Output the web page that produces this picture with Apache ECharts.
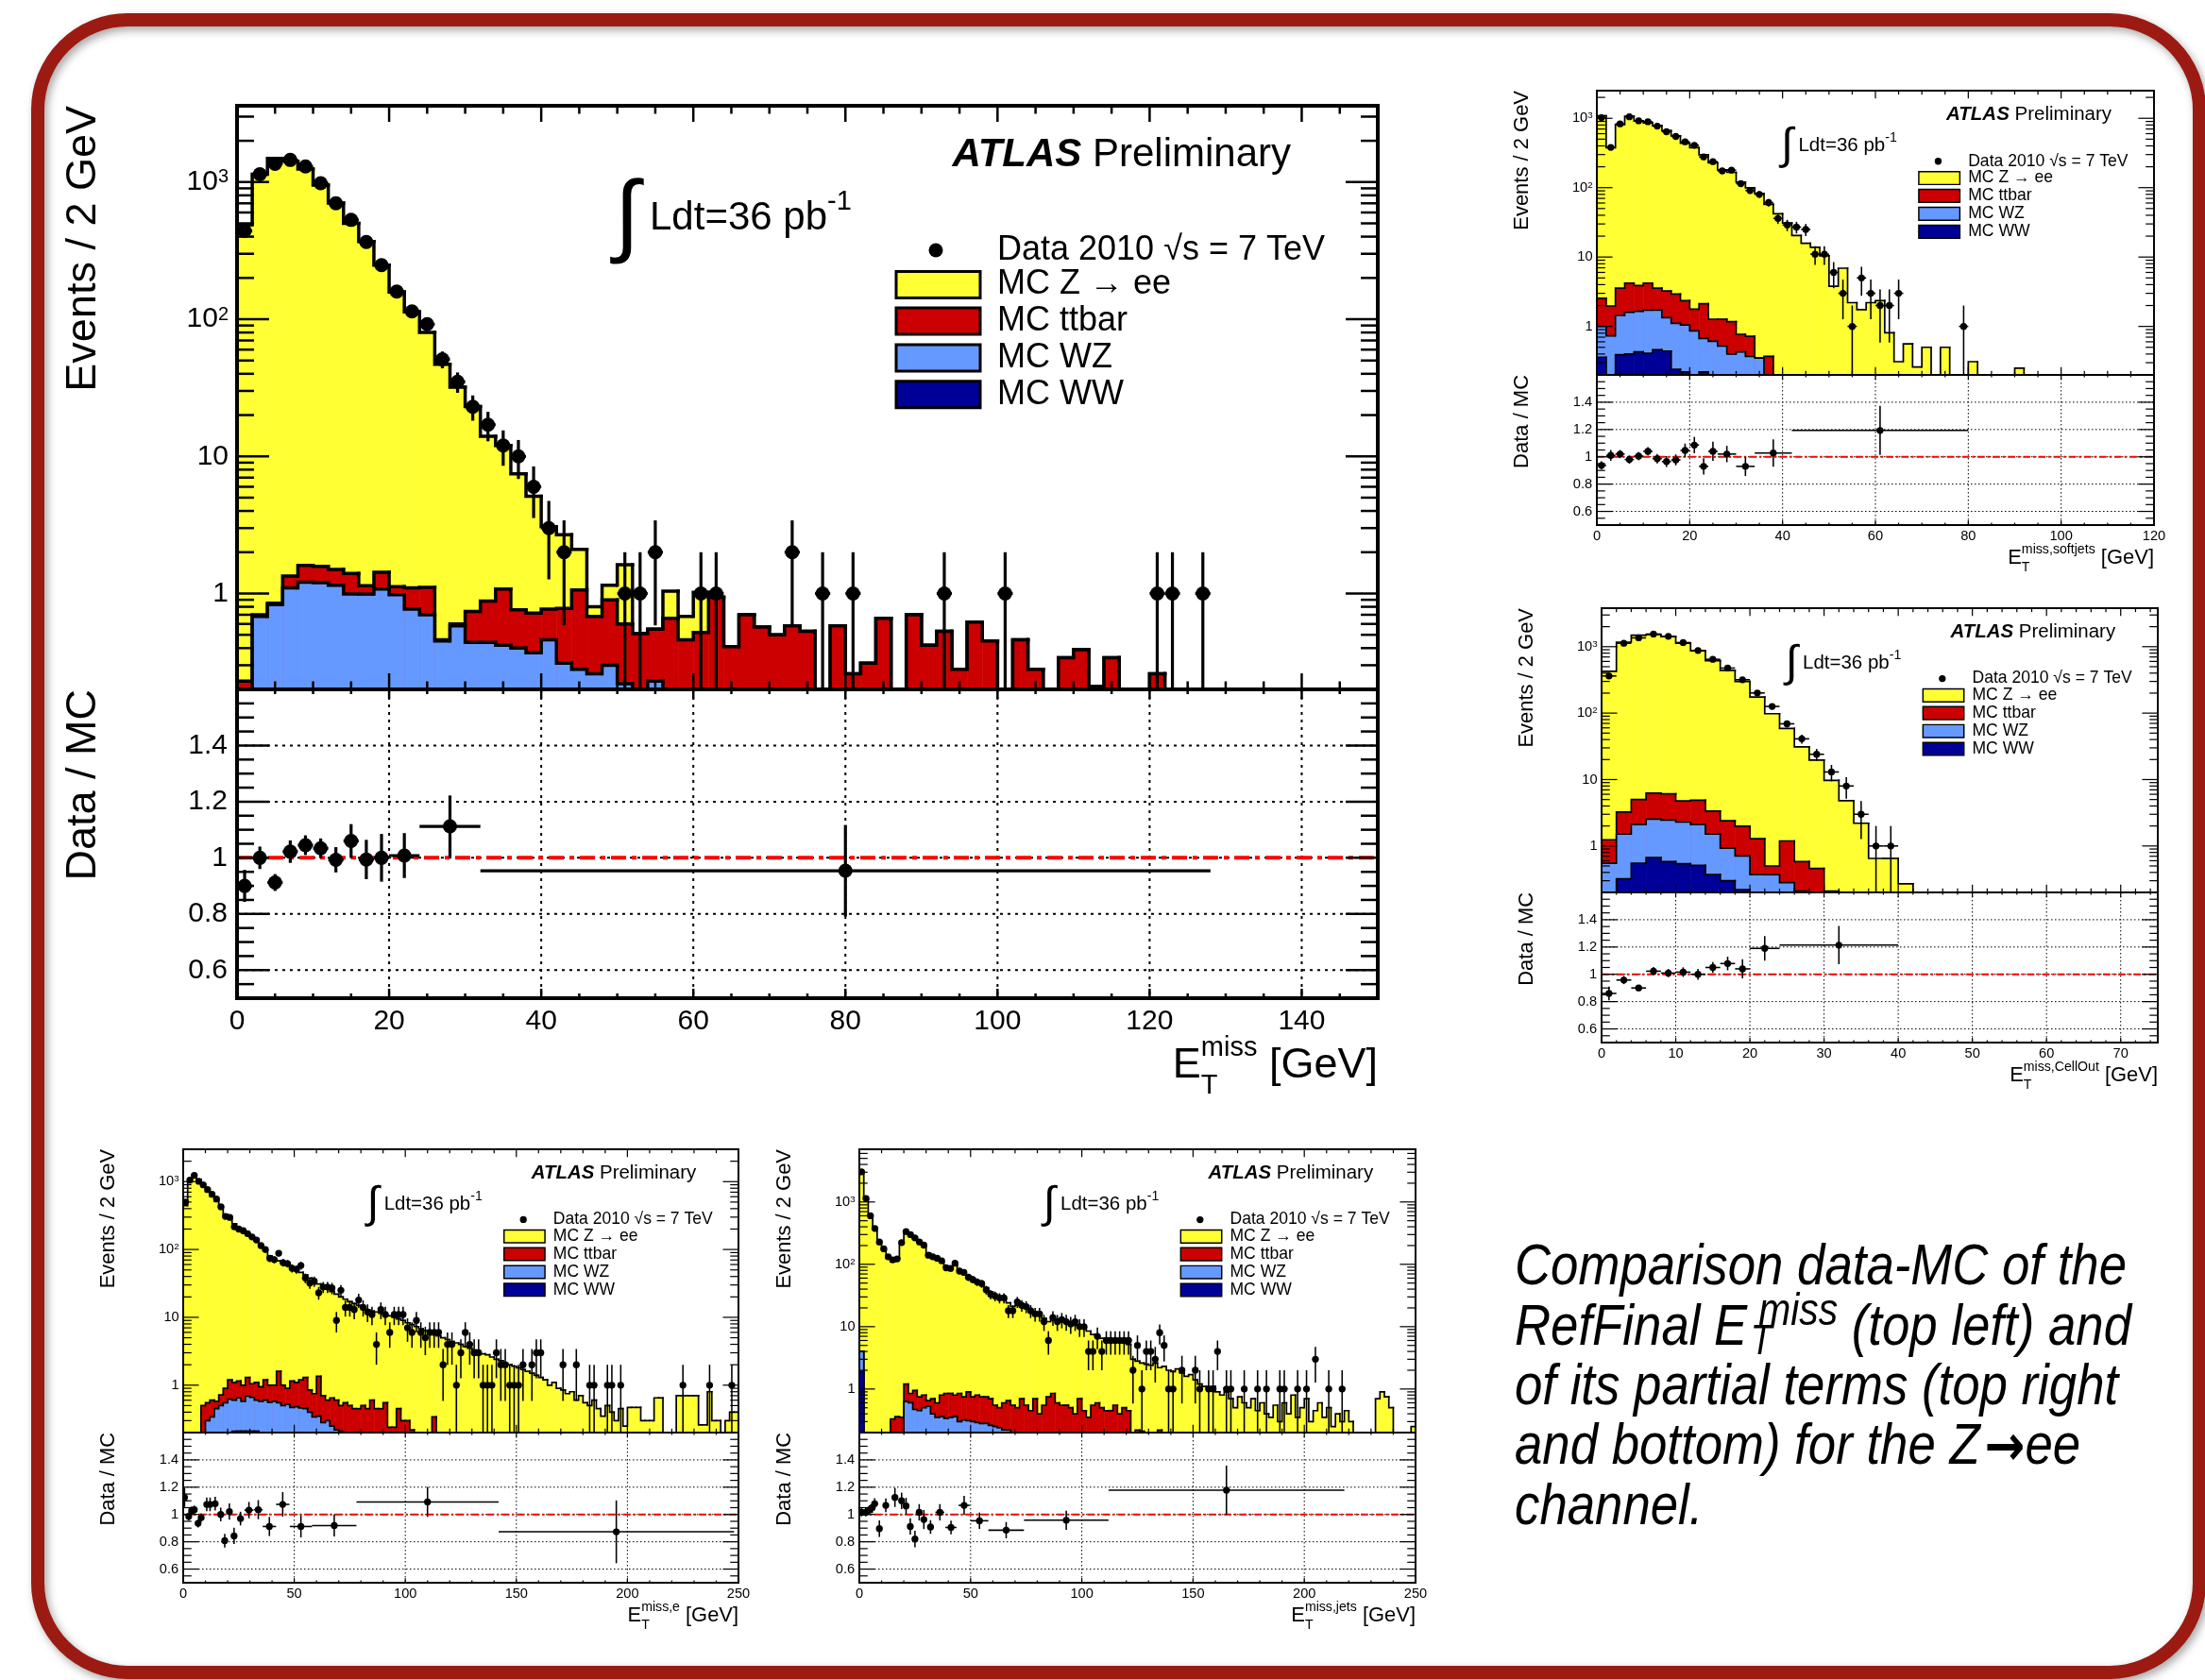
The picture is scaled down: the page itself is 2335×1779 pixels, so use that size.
<!DOCTYPE html>
<html>
<head>
<meta charset="utf-8">
<script src="https://cdn.jsdelivr.net/npm/echarts@6/dist/echarts.min.js"></script>
<style>
  html, body { margin: 0; background: #fff; }
  #chart { width: 2335px; height: 1779px; }
</style>
</head>
<body>
<div id="chart"></div>
<script>
// ---- data: events per 2 GeV bin ----
const BIN = 2;

// RefFinal (top left), 0-150 GeV
const dataA = [440,1140,1360,1450,1300,980,700,530,366,248, 159,114,92,51,35,23,17,12,10,6,
  3,2,0,0,0,1,1,2,0,0, 1,1,0,0,0,0,2,0,1,0, 1,0,0,0,0,0,1,0,0,0, 1,0,0,0,0,0,0,0,0,0, 1,1,0,1];
const zeeA = [489,1139,1489,1419,1243,948,703,499,367,247, 157,112,79,46.5,31.4,22.3,13.1,10.9,6.7,4.4,
  2.3,1.9,1.04,0.12,0.25,1.02,0,0,0.38,0.22, 0.5];
const ttA = [0.03,0.02,0.02,0.24,0.39,0.38,0.35,0.41,0.15,0.35, 0.14,0.33,0.41,0.01,0.02,0.30,0.44,0.66,0.36,0.35,
  0.31,0.47,0.78,0.42,0.6,0.38,0.51,0.32,0.66,0.46, 0.52,0.94,0.41,0.70,0.57,0.50,0.58,0.53,0,0.58,
  0.26,0.31,0.66,0,0.70,0.42,0.53,0.28,0.62,0.45, 0,0.46,0.28,0,0.34,0.39,0.21,0.34,0,0, 0.26];
const wzA = [0.2,0.68,0.83,1.1,1.21,1.2,1.15,0.99,0.99,1.08, 0.98,0.77,0.70,0.45,0.58,0.44,0.44,0.42,0.40,0.37,
  0.46,0.31,0.28,0.26,0.30,0.22,0,0.23];
const wwA = [];
// ratio points: [x, x half-width, data/MC, error]
const ratioA = [[1,1,0.90,0.057],[3,1,1.0,0.04],[5,1,0.912,0.03],[7,1,1.022,0.04],[9,1,1.045,0.035],
  [11,1,1.034,0.035],[13,1,0.993,0.045],[15,1,1.06,0.06],[17,1,0.994,0.07],[19,1,1.0,0.085],
  [22,2,1.008,0.08],[28,4,1.112,0.11],[80,48,0.954,0.163]];

// softjets (top right), 0-120 GeV
const dataB = [1020,380,830,1050,920,890,770,640,547,458, 408,277,237,174,179,114,91,80,61,36,
  29,27,25,11,11,6,3,1,5,3, 2,2,3,0,0,0,0,0,0,1];
const zeeB = [1086,376,810,1067,911,852,777,660,557,435, 374,296,227,179,165,119,99,82,57,42,
  31,20.5,15.8,13.8,10.4,3.8,6.9,2.2,1.74,2.2, 2.35,0.81,0.31,0.56,0.26,0.5,0,0.5,0,0, 0.31,0,0,0,0,0.25];
const ttB = [1.55,1.24,2.12,2.6,2.22,2.48,1.84,1.90,1.82,1.30, 0.91,1.45,0.66,0.75,0.77,0.34,0.35,0,0.37];
const wzB = [0.64,0.73,1.05,1.2,1.22,1.31,1.26,0.90,0.87,0.83, 0.86,0.45,0.61,0.52,0.40,0.43,0.37,0.35];
const wwB = [0.36,0,0.39,0.40,0.43,0.41,0.46,0.44,0.24,0.22, 0,0.22];
const ratioB = [[1,1,0.937,0.03],[3,1,1.01,0.04],[5,1,1.02,0.03],[7,1,0.98,0.03],[9,1,1.005,0.03],
  [11,1,1.04,0.03],[13,1,0.986,0.035],[15,1,0.965,0.04],[17,1,0.977,0.04],[19,1,1.047,0.05],
  [21,1,1.086,0.06],[23,1,0.93,0.06],[25,1,1.04,0.07],[28,2,1.02,0.06],[32,2,0.93,0.07],
  [38,4,1.028,0.1],[61,19,1.193,0.18]];

// CellOut (middle right), 0-75 GeV
const dataC = [362,1127,1358,1549,1432,1153,877,646,476,318, 201,126,69,41,24,13,8,3,1,1];
const zeeC = [425,1167,1485,1524,1414,1125,865,612,439,298, 173,97.5,57.4,30.4,19.2,9.5,4.8,2.2,0.65,0.65, 0.27];
const ttC = [0.69,1.74,2.9,3.72,3.65,2.46,2.8,1.85,1.46,1.28, 0.92,0.13,0.91,0.37,0.46,0.21];
const wzC = [0.55,1.19,1.55,1.86,1.87,1.75,1.59,1.14,0.63,0.49, 0.37,0.37,0.28,0.21];
const wwC = [0,0.32,0.55,0.67,0.58,0.54,0.51,0.37,0.30,0.22];
const ratioC = [[1,1,0.86,0.05],[3,1,0.958,0.03],[5,1,0.90,0.02],[7,1,1.023,0.03],[9,1,1.009,0.03],
  [11,1,1.016,0.035],[13,1,1.0,0.04],[15,1,1.05,0.04],[17,1,1.079,0.05],[19,1,1.04,0.07],
  [22,2,1.19,0.09],[32,8,1.214,0.14]];

// electrons (bottom left), 0-250 GeV
const dataD = [499,1050,1240,1010,898,765,651,555,425,307, 297,216,200,189,171,153,138,114,100,74,
  71,88,64,62,53,51,58,38,32,34, 23,28,28,27,9,25,14,14,13,18, 14,12,11,4,13,11,6,11,11,11,
  7,6,9,6,5,6,6,6,2,4, 4,1,3,6,4,3,3,1,1,1, 3,2,2,1,1,1,2,0,2,3, 3,0,0,0,0,2,0,0,2,0,
  0,1,1,0,0,1,1,0,1,0, 0,0,0,0,0,0,0,0,0,0, 0,0,1,0,0,0,0,0,1,0, 0,0,0,1,0];
const zeeD = [445,1060,1200,1080,919.5,709.5,604.4,514.4,424.3,329.1, 288.8,238.9,203.9,189,168.7,149,133.9,115,95.8,79,
  71,66.4,61,57.1,52.85,48.9,44.8,40.7,37.15,34.25, 29.65,27.3,25.4,23.35,21.4,19.5,17.95,16.5,15.55,14.55,
  13.5,12.55,11.8,11.55,11.05,10.45,10.26,9.76,9.05,8.7, 8.0,7.58,7.3,6.8,6.4,6.0,5.36,5.3,5.0,4.7,
  4.4,4.2,4.0,3.7,3.5,3.3,3.1,2.9,2.8,2.6, 2.4,2.3,2.1,2.0,1.9,1.8,1.7,1.6,1.5,1.4,
  1.3,1.2,1.0,1.1,0.9,0.85,0.75,0.8,0.6,0.7, 0.55,0.5,0.6,0.45,0.35,0.5,0.4,0.3,0.45,0.25,
  0.47,0.47,0.47,0.3,0.3,0.3,0.65,0.65,0,0, 0,0.7,0.7,0.7,0.7,0.7,0.26,0.26,0.8,0.3, 0.3,0,0.3,0.4,0.4];
const ttD = [0,0,0,0,0.5,0.25,0.26,0.13,0.22,0.35, 0.58,0.5,0.5,0.42,0.61,0.39,0.5,0.37,0.6,0.44,
  0.42,1.05,0.5,0.38,0.68,0.62,0.74,0.85,0.45,0.41, 1.0,0.42,0.3,0.4,0.38,0.29,0.55,0.5,0.45,0.45,
  0.5,0.45,0.6,0.45,0.45,0.55,0.24,0.24,0.45,0.3, 0.3,0.22,0,0,0,0,0.34];
const wzD = [0,0,0,0,0,0.3,0.34,0.45,0.5,0.55, 0.62,0.39,0.44,0.37,0.48,0.45,0.39,0.58,0.6,0.56,
  0.58,0.55,0.5,0.52,0.47,0.48,0.46,0.45,0.4,0.34, 0.35,0.28,0.3,0.25,0.22,0.21];
const wwD = [0,0,0,0,0,0,0,0,0,0, 0,0.21,0.21,0.21,0.21,0.21,0.21];
const ratioD = [[0.6,0.6,1.125,0.07],[2.5,0.7,0.986,0.03],[3.8,0.6,1.028,0.03],[5,0.6,1.035,0.03],
  [6.7,0.8,0.935,0.03],[8.1,0.7,0.977,0.03],[10.6,1,1.074,0.05],[12.1,1,1.074,0.05],[14.4,1,1.079,0.05],
  [16.9,1,1.0,0.05],[18.7,1,0.808,0.05],[20.8,1,1.021,0.06],[22.9,1,0.843,0.06],[25.8,1.5,0.97,0.05],
  [29.6,2,1.032,0.06],[33.8,2,1.035,0.07],[38.8,3,0.912,0.07],[44.8,3,1.074,0.09],[53,5,0.912,0.08],
  [68,10,0.919,0.08],[110,32,1.092,0.11],[195,53,0.873,0.23]];

// jets (bottom middle), 0-250 GeV
const dataE = [3050,1137,600,376,228,177,132,118,122,223, 335,299,265,228,203,140,132,125,114,88,
  86,104,78,74,62,57,52,49,39,33, 31,29,29,18,18,25,22,21,18,16, 16,12,6,14,12,13,12,11,12,10,
  10,4,4,7,4,6,6,6,6,6, 6,2,5,1,4,4,3,8,5,1, 1,0,2,0,0,2,1,0,1,1, 4,0,1,1,0,0,1,0,0,1,
  0,1,0,0,1,1,0,0,1,0, 1,0,3,0,0,1,0,0,1,0];
const zeeE = [2996,1100,620,370,225,170,125,109.7,124.6,214.7, 323.8,289.2,254,219.3,194.2,149.4,129.3,119.4,107.2,91.2,
  84.2,95.2,79.2,72.3,63.1,56.3,51.2,47.3,41.3,35.3, 31.5,29.5,27.4,23.4,20.5,21.5,19.8,19,17.6,15.8,
  14.6,13,11.3,12.2,11.9,11.5,11,10.5,10.1,9.3, 9.05,8.15,6.95,6.4,6.0,6.05,5.75,5.45,5.4,5.0,
  4.75,3.0,2.58,2.39,2.5,2.4,2.6,1.98,2.3,2.0, 1.9,2.1,1.8,1.6,1.7,1.4,1.2,1.1,1.0,1.1,
  0.9,0.8,0.9,0.7,0.5,0.75,0.6,0.5,0.7,0.45, 0.6,0.4,0.35,0.55,0.3,0.6,0.4,0.8,0.35,0.5,
  0.7,0.3,0.45,0.6,0.35,0.5,0.25,0.4,0.3,0.45, 0.3,0,0,0,0,0,0.7,0.9,0.75,0.5, 0,0,0,0,0.25];
const ttE = [0,0,0,0,0,0,0,0.33,0.36,0.35, 0.57,0.25,0.48,0.3,0.3,0.12,0.3,0.25,0.44,0.51,
  0.5,0.44,0.55,0.43,0.59,0.45,0.51,0.47,0.47,0.44, 0.3,0.26,0.38,0.43,0.55,0.5,0.7,0.55,0.45,0.7,
  0.4,0.55,0.75,0.85,0.6,0.55,0.55,0.5,0.4,0.7, 0.45,0.35,0.55,0.6,0.5,0.45,0.45,0.55,0.4,0.5,
  0.45,0,0.22,0.21,0,0,0,0.22];
const wzE = [2.1,0,0,0,0,0,0,0,0,0, 0.63,0.6,0.47,0.45,0.5,0.53,0.4,0.35,0.36,0.34,
  0.35,0.36,0.3,0.32,0.31,0.3,0.29,0.28,0.28,0.26, 0.25,0.24,0.22,0.22];
const wwE = [1.9];
const ratioE = [[1,1,1.016,0.03],[2.9,1,1.016,0.03],[4.6,0.6,1.035,0.03],[5.8,0.6,1.05,0.04],
  [6.9,0.6,1.079,0.04],[9,1,0.896,0.06],[11.9,1,1.067,0.05],[16,1,1.125,0.07],[19,1,1.1,0.06],
  [21,1,1.062,0.06],[22.9,1,0.912,0.06],[25,1,0.82,0.06],[26.9,1,1.016,0.06],[29,1,0.963,0.07],
  [32,1.5,0.908,0.05],[36.2,2,1.016,0.06],[41.2,2.5,0.905,0.05],[47.1,2.5,1.067,0.07],
  [54,4,0.954,0.06],[66,8,0.885,0.06],[93,19,0.958,0.07],[165,53,1.178,0.18]];

const LEGEND = ['MC Z → ee', 'MC ttbar', 'MC WZ', 'MC WW'];

// ---- styling / layout ----
const FONT = '"Liberation Sans", Arial, Helvetica, sans-serif';
const NARROW = '"Liberation Sans Narrow", "Liberation Sans", Arial, sans-serif';
const COL = { zee: '#ffff33', tt: '#cc0000', wz: '#6699ff', ww: '#000099' };

const panels = [
  { left: 251, top: 112, width: 1208, hMain: 618, hRatio: 327, xmax: 150, xMajor: 20, xMinor: 5, ymax: 3600, nb: 75,
    data: dataA, zee: zeeA, tt: ttA, wz: wzA, ww: wwA, ratio: ratioA, sup: 'miss' },
  { left: 1691, top: 96, width: 590, hMain: 301, hRatio: 159, xmax: 120, xMajor: 20, xMinor: 5, ymax: 2500, nb: 60,
    data: dataB, zee: zeeB, tt: ttB, wz: wzB, ww: wwB, ratio: ratioB, sup: 'miss,softjets' },
  { left: 1696, top: 644, width: 589, hMain: 301, hRatio: 159, xmax: 75, xMajor: 10, xMinor: 2, ymax: 3800, nb: 38,
    data: dataC, zee: zeeC, tt: ttC, wz: wzC, ww: wwC, ratio: ratioC, sup: 'miss,CellOut' },
  { left: 194, top: 1217, width: 588, hMain: 300, hRatio: 159, xmax: 250, xMajor: 50, xMinor: 10, ymax: 3000, nb: 125,
    data: dataD, zee: zeeD, tt: ttD, wz: wzD, ww: wwD, ratio: ratioD, sup: 'miss,e' },
  { left: 910, top: 1217, width: 589, hMain: 300, hRatio: 159, xmax: 250, xMajor: 50, xMinor: 10, ymax: 7000, nb: 125,
    data: dataE, zee: zeeE, tt: ttE, wz: wzE, ww: wwE, ratio: ratioE, sup: 'miss,jets' }
];
panels.forEach(p => { p.k = p.width / 1208; p.ymin = 0.2; });

const ctx2d = document.createElement('canvas').getContext('2d');
function tw(s, size, fam, style) {
  ctx2d.font = (style || '') + ' ' + size + 'px ' + (fam || FONT);
  return ctx2d.measureText(s).width;
}
function txt(x, y, s, size, o) {
  o = o || {};
  const al = o.align || 'left', va = o.va || 'middle';
  return {
    type: 'text', x, y, rotation: o.rot || 0, z: 100, silent: true,
    style: {
      text: s, fontSize: size, fontFamily: o.family || FONT, fontWeight: o.weight || 'normal',
      fontStyle: o.style || 'normal', fill: '#000', align: al, verticalAlign: va,
      textAlign: al, textVerticalAlign: va
    }
  };
}
function pad(a, n) { const r = a.slice(); while (r.length < n) r.push(0); return r; }

function logTicks(lo, hi) {
  const t = [];
  for (let e = -1; e <= 4; e++) for (let m = 1; m <= 9; m++) {
    const v = m * Math.pow(10, e);
    if (v >= lo * 0.999 && v <= hi) t.push([v, m === 1]);
  }
  return t;
}
function ratioTicks() {
  const t = [];
  for (let j = 10; j <= 32; j++) t.push([j * 0.05, j % 4 === 0]);
  return t;
}

function frameRender(p, ratio) {
  const k = p.k;
  return (params, api) => {
    const cs = params.coordSys, x0 = cs.x, y0 = cs.y, x1 = x0 + cs.width, y1 = y0 + cs.height;
    const xMaj = (ratio ? 10 : 17) * k, xMin = xMaj / 2, yMaj = 34 * k, yMin = 18 * k;
    const st = { stroke: '#000', lineWidth: Math.max(1.2, 2.5 * k) };
    const kids = [];
    const nx = Math.floor(p.xmax / p.xMinor + 1e-9);
    for (let j = 0; j <= nx; j++) {
      const v = j * p.xMinor;
      const px = api.coord([v, 1])[0];
      const len = Math.abs(v / p.xMajor - Math.round(v / p.xMajor)) < 1e-6 ? xMaj : xMin;
      kids.push({ type: 'line', shape: { x1: px, y1: y1, x2: px, y2: y1 - len }, style: st });
      kids.push({ type: 'line', shape: { x1: px, y1: y0, x2: px, y2: y0 + len }, style: st });
    }
    (ratio ? ratioTicks() : logTicks(p.ymin, p.ymax)).forEach(([v, major]) => {
      const py = api.coord([0, v])[1];
      const len = major ? yMaj : yMin;
      kids.push({ type: 'line', shape: { x1: x0, y1: py, x2: x0 + len, y2: py }, style: st });
      kids.push({ type: 'line', shape: { x1: x1, y1: py, x2: x1 - len, y2: py }, style: st });
    });
    kids.push({ type: 'rect', shape: { x: x0, y: y0, width: cs.width, height: cs.height },
      style: { stroke: '#000', lineWidth: Math.max(1.6, 4 * k), fill: 'none' } });
    return { type: 'group', children: kids };
  };
}

function ratioGrid(p) {
  const k = p.k;
  return (params, api) => {
    const cs = params.coordSys, x0 = cs.x, y0 = cs.y, x1 = x0 + cs.width, y1 = y0 + cs.height;
    const dot = { stroke: '#000', lineWidth: Math.max(1, 2 * k), lineDash: [Math.max(1.5, 3 * k), Math.max(2.5, 5 * k)] };
    const kids = [];
    [0.6, 0.8, 1.0, 1.2, 1.4].forEach(v => {
      const py = api.coord([0, v])[1];
      kids.push({ type: 'line', shape: { x1: x0, y1: py, x2: x1, y2: py }, style: dot });
    });
    for (let v = p.xMajor; v < p.xmax; v += p.xMajor) {
      const px = api.coord([v, 1])[0];
      kids.push({ type: 'line', shape: { x1: px, y1: y0, x2: px, y2: y1 }, style: dot });
    }
    const py1 = api.coord([0, 1])[1];
    kids.push({ type: 'line', shape: { x1: x0, y1: py1, x2: x1, y2: py1 },
      style: { stroke: '#ff0000', lineWidth: Math.max(1.6, 4 * k), lineDash: [16 * k, 6 * k, 5 * k, 6 * k].map(d => Math.max(d, 2)) } });
    return { type: 'group', children: kids };
  };
}

function histItems(cum, p) {
  const tiny = p.ymin * 0.01, pos = v => (v > 0 ? v : tiny), items = [];
  for (let j = 0; j < cum.length; j++) items.push([j * BIN, (j + 1) * BIN, pos(cum[j]), pos(j ? cum[j - 1] : 0)]);
  items.push([cum.length * BIN, cum.length * BIN, tiny, pos(cum[cum.length - 1])]);
  return items;
}
function histRender(color, lw) {
  return (params, api) => {
    const cs = params.coordSys, bottom = cs.y + cs.height, lim = bottom + 5;
    const a = api.coord([api.value(0), api.value(2)]);
    const b = api.coord([api.value(1), api.value(2)]);
    const pv = api.coord([api.value(0), api.value(3)]);
    const kids = [];
    if (b[0] > a[0] && a[1] < bottom) {
      kids.push({ type: 'rect', shape: { x: a[0], y: a[1], width: b[0] - a[0] + 0.5, height: bottom - a[1] + 2 }, style: { fill: color } });
    }
    kids.push({ type: 'polyline',
      shape: { points: [[a[0], Math.min(pv[1], lim)], [a[0], Math.min(a[1], lim)], [b[0], Math.min(b[1], lim)]] },
      style: { stroke: '#000', lineWidth: lw, fill: null, lineJoin: 'miter', lineCap: 'square' } });
    return { type: 'group', children: kids };
  };
}
function pointRender(r, lw) {
  return (params, api) => {
    const cs = params.coordSys;
    const x = api.value(0), y = api.value(1), xe = api.value(2), lo = api.value(3), hi = api.value(4);
    const c = api.coord([x, y]);
    const yt = api.coord([x, y + hi])[1];
    const yb = y - lo > 0 ? api.coord([x, y - lo])[1] : cs.y + cs.height + 10;
    const xl = api.coord([x - xe, y])[0], xr = api.coord([x + xe, y])[0];
    const st = { stroke: '#000', lineWidth: lw };
    return { type: 'group', children: [
      { type: 'line', shape: { x1: c[0], y1: yt, x2: c[0], y2: yb }, style: st },
      { type: 'line', shape: { x1: xl, y1: c[1], x2: xr, y2: c[1] }, style: st },
      { type: 'circle', shape: { cx: c[0], cy: c[1], r: r }, style: { fill: '#000' } }
    ] };
  };
}

function logLabel(v) {
  const l = Math.log10(v), e = Math.round(l);
  if (Math.abs(l - e) > 1e-6) return '';
  if (e === 0) return '1';
  if (e === 1) return '10';
  return '10{s|' + e + '}';
}
function ratioLabel(v) {
  const r = Math.round(v * 10);
  return (r % 2 === 0 && r >= 6 && r <= 14) ? String(r / 10) : '';
}

function panelTexts(p) {
  const k = p.k, L = p.left, T = p.top, W = p.width, els = [];
  // ATLAS Preliminary
  const fA = 42 * k, xr = L + W - 92 * k, ya = T + 52 * k, wPre = tw('Preliminary', fA);
  els.push(txt(xr - wPre, ya, 'Preliminary', fA));
  els.push(txt(xr - wPre - tw(' ', fA), ya, 'ATLAS', fA, { weight: 'bold', style: 'italic', align: 'right' }));
  // luminosity
  els.push(txt(L + 413 * k, T + 121 * k, '∫', 96 * k, { align: 'center' }));
  const fL = 42 * k, xl = L + 437 * k;
  els.push(txt(xl, T + 119 * k, 'Ldt=36 pb', fL));
  els.push(txt(xl + tw('Ldt=36 pb', fL), T + 102 * k, '-1', 29 * k));
  // legend
  const fG = 36 * k, xt = L + 805 * k;
  els.push({ type: 'circle', z: 100, silent: true, shape: { cx: L + 740 * k, cy: T + 153 * k, r: 7.5 * k }, style: { fill: '#000' } });
  els.push(txt(xt, T + 153 * k, 'Data 2010 √s = 7 TeV', fG));
  [COL.zee, COL.tt, COL.wz, COL.ww].forEach((col, j) => {
    const cy = [189.5, 228, 267, 305.7][j];
    els.push({ type: 'rect', z: 100, silent: true,
      shape: { x: L + 698 * k, y: T + (cy - 14) * k, width: 89 * k, height: 28 * k },
      style: { fill: col, stroke: '#000', lineWidth: Math.max(1.2, 3 * k) } });
    els.push(txt(xt, T + cy * k, LEGEND[j], fG));
  });
  // axis titles
  const fT = 45 * k, xy = L - 162 * k;
  els.push(txt(xy, T, 'Events / 2 GeV', fT, { align: 'right', rot: Math.PI / 2 }));
  els.push(txt(xy, T + p.hMain, 'Data / MC', fT, { align: 'right', rot: Math.PI / 2 }));
  const fS = 29 * k, xR = L + W, yc = T + p.hMain + p.hRatio + 72 * k;
  const xG = xR - tw('[GeV]', fT);
  const xS = xG - tw(' ', fT) - tw(p.sup, fS);
  els.push(txt(xG, yc, '[GeV]', fT));
  els.push(txt(xS, yc - 19 * k, p.sup, fS));
  els.push(txt(xS, yc + 21 * k, 'T', fS));
  els.push(txt(xS - tw('E', fT), yc, 'E', fT));
  return els;
}

function caption() {
  const fs = 62, o = { family: NARROW, style: 'italic' };
  const ys = [1343, 1407, 1470, 1533, 1597];
  const first = 'Comparison data-MC of the';
  const sc = 648 / tw(first, fs, NARROW, 'italic');
  const kids = [txt(0, ys[0], first, fs, o)];
  const w2 = tw('RefFinal E', fs, NARROW, 'italic');
  kids.push(txt(0, ys[1], 'RefFinal E', fs, o));
  kids.push(txt(w2 + 4, ys[1] + 15, 'T', 44, o));
  kids.push(txt(w2 + 14, ys[1] - 17, 'miss', 48, o));
  kids.push(txt(w2 + 14 + tw('miss', 48, NARROW, 'italic'), ys[1], ' (top left) and', fs, o));
  kids.push(txt(0, ys[2], 'of its partial terms (top right', fs, o));
  const w4 = tw('and bottom) for the Z', fs, NARROW, 'italic');
  kids.push(txt(0, ys[3], 'and bottom) for the Z', fs, o));
  const AF = '"DejaVu Sans", sans-serif';
  kids.push(txt(w4 + 6, ys[3] + 2, '→', 60, { family: AF, weight: 'bold' }));
  kids.push(txt(w4 + 6 + tw('→', 60, AF, 'bold'), ys[3], 'ee', fs, o));
  kids.push(txt(0, ys[4], 'channel.', fs, o));
  return { type: 'group', x: 1604, y: 0, scaleX: sc, z: 100, children: kids };
}

// ---- build option ----
const grid = [], xAxis = [], yAxis = [], series = [];
const elements = [{
  type: 'rect', z: 0, silent: true,
  shape: { x: 40, y: 21, width: 2289, height: 1750, r: 95 },
  style: { fill: 'none', stroke: '#9b1b12', lineWidth: 14, shadowBlur: 10, shadowColor: 'rgba(0,0,0,0.35)', shadowOffsetX: 3, shadowOffsetY: 4 }
}];

panels.forEach(p => {
  const k = p.k, gi = grid.length;
  grid.push({ left: p.left, top: p.top, width: p.width, height: p.hMain, outerBoundsMode: 'none' });
  grid.push({ left: p.left, top: p.top + p.hMain, width: p.width, height: p.hRatio, outerBoundsMode: 'none' });
  const lbl = { color: '#000', fontFamily: FONT, fontSize: 30 * k };
  const off = { axisLine: { show: false }, axisTick: { show: false }, splitLine: { show: false } };
  xAxis.push({ gridIndex: gi, type: 'value', min: 0, max: p.xmax, ...off, axisLabel: { show: false } });
  xAxis.push({ gridIndex: gi + 1, type: 'value', min: 0, max: p.xmax, interval: p.xMajor, ...off,
    axisLabel: { ...lbl, margin: 10 * k, formatter: v => (Math.abs(v % p.xMajor) < 1e-6 ? String(v) : '') } });
  yAxis.push({ gridIndex: gi, type: 'log', logBase: 10, min: p.ymin, max: p.ymax, ...off,
    axisLabel: { ...lbl, margin: 9 * k, formatter: logLabel,
      rich: { s: { color: '#000', fontFamily: FONT, fontSize: 20 * k, verticalAlign: 'top' } } } });
  yAxis.push({ gridIndex: gi + 1, type: 'value', min: 0.5, max: 1.6, interval: 0.1, ...off,
    axisLabel: { ...lbl, margin: 10 * k, formatter: ratioLabel } });

  const main = { xAxisIndex: gi, yAxisIndex: gi };
  const rat = { xAxisIndex: gi + 1, yAxisIndex: gi + 1 };

  series.push({ type: 'custom', ...rat, z: 1, silent: true, clip: false, data: [[0, 1]], renderItem: ratioGrid(p) });

  const ww = pad(p.ww, p.nb), wz = pad(p.wz, p.nb), tt = pad(p.tt, p.nb), zee = pad(p.zee, p.nb);
  const cWZ = ww.map((v, j) => v + wz[j]);
  const cTT = cWZ.map((v, j) => v + tt[j]);
  const cZ = cTT.map((v, j) => v + zee[j]);
  const lwH = Math.max(1.5, 3.5 * k);
  [[cZ, COL.zee, LEGEND[0]], [cTT, COL.tt, LEGEND[1]], [cWZ, COL.wz, LEGEND[2]], [ww, COL.ww, LEGEND[3]]].forEach(([c, col, nm]) => {
    series.push({ type: 'custom', name: nm, ...main, z: 2, silent: true, clip: true,
      encode: { x: 0, y: 2 }, data: histItems(c, p), renderItem: histRender(col, lwH) });
  });

  const pts = [];
  pad(p.data, p.nb).forEach((n, j) => { if (n > 0 && j * BIN < p.xmax) pts.push([j * BIN + BIN / 2, n, BIN / 2, Math.sqrt(n), Math.sqrt(n)]); });
  const r = Math.max(3.4, 7.5 * k), lwP = Math.max(1.4, 3.2 * k);
  series.push({ type: 'custom', name: 'Data 2010', ...main, z: 3, silent: true, clip: true,
    encode: { x: 0, y: 1 }, data: pts, renderItem: pointRender(r, lwP) });
  series.push({ type: 'custom', name: 'Data / MC', ...rat, z: 3, silent: true, clip: true,
    encode: { x: 0, y: 1 }, data: p.ratio.map(q => [q[0], q[2], q[1], q[3], q[3]]), renderItem: pointRender(r, lwP) });

  series.push({ type: 'custom', ...main, z: 5, silent: true, clip: false, data: [[0, 1]], renderItem: frameRender(p, false) });
  series.push({ type: 'custom', ...rat, z: 5, silent: true, clip: false, data: [[0, 1]], renderItem: frameRender(p, true) });

  elements.push(...panelTexts(p));
});
elements.push(caption());

const chart = echarts.init(document.getElementById('chart'), null, { renderer: 'canvas' });
chart.setOption({
  backgroundColor: '#ffffff',
  animation: false,
  grid, xAxis, yAxis, series,
  graphic: { elements }
});
window.addEventListener('resize', () => chart.resize());
</script>
</body>
</html>
